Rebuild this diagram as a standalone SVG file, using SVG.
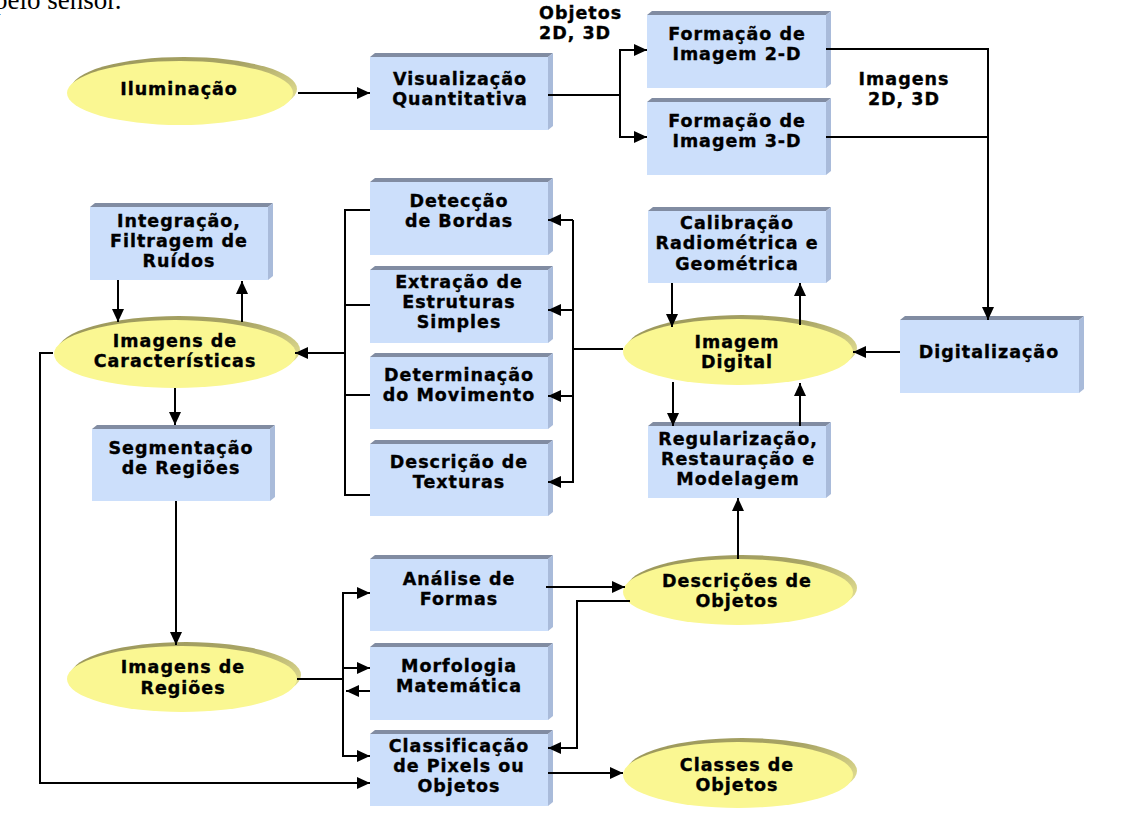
<svg xmlns="http://www.w3.org/2000/svg" width="1124" height="828" viewBox="0 0 1124 828">
<defs>
<style>
.front{fill:#CCDFFB}
.top{fill:#818CA2}
.side{fill:#A9BBDA}
.ef{fill:#FAF792}
.es{fill:url(#eg)}
.t{font-family:"DejaVu Sans",Verdana,sans-serif;font-weight:bold;font-size:17.5px;letter-spacing:1px;text-anchor:middle;fill:#000;stroke:#000;stroke-width:0.35}
.tl{text-anchor:start}
.c path{fill:none;stroke:#000;stroke-width:2}
.c path.a{marker-end:url(#ah)}
</style>
<linearGradient id="eg" x1="0" y1="0" x2="1" y2="0.6">
<stop offset="0" stop-color="#9A965A"/>
<stop offset="0.6" stop-color="#A8A465"/>
<stop offset="1" stop-color="#DEDA8E"/>
</linearGradient>
<marker id="ah" markerUnits="userSpaceOnUse" viewBox="0 0 13 12" markerWidth="13" markerHeight="12" refX="13" refY="6" orient="auto">
<path d="M0,0 L13,6 L0,12 z" fill="#000"/>
</marker>
</defs>
<rect width="1124" height="828" fill="#fff"/>
<text x="-6" y="9" font-family="Liberation Serif,serif" font-size="27" fill="#000">pelo sensor.</text>

<g id="iluminacao"><ellipse class="es" cx="184" cy="89" rx="113" ry="32"/><ellipse class="ef" cx="180" cy="93" rx="113" ry="32"/>
<text class="t" x="179" y="95">Iluminação</text></g>

<g id="visualizacao"><polygon class="top" points="370,57 375,53 553,53 548,57"/><polygon class="side" points="548,57 553,53 553,126 548,130"/><rect class="front" x="370" y="57" width="178" height="73"/>
<text class="t" x="460" y="85">Visualização</text><text class="t" x="460" y="105">Quantitativa</text></g>

<g id="objetos-label"><text class="t tl" x="539" y="19">Objetos</text><text class="t tl" x="539" y="39">2D, 3D</text></g>

<g id="formacao2d"><polygon class="top" points="647,15 652,11 831,11 826,15"/><polygon class="side" points="826,15 831,11 831,84 826,88"/><rect class="front" x="647" y="15" width="179" height="73"/>
<text class="t" x="737" y="40">Formação de</text><text class="t" x="737" y="60">Imagem 2-D</text></g>

<g id="formacao3d"><polygon class="top" points="647,102 652,98 831,98 826,102"/><polygon class="side" points="826,102 831,98 831,171 826,175"/><rect class="front" x="647" y="102" width="179" height="73"/>
<text class="t" x="737" y="127">Formação de</text><text class="t" x="737" y="147">Imagem 3-D</text></g>

<g id="imagens-label"><text class="t" x="904" y="85">Imagens</text><text class="t" x="904" y="105">2D, 3D</text></g>

<g id="integracao"><polygon class="top" points="90,207 95,203 273,203 268,207"/><polygon class="side" points="268,207 273,203 273,276 268,280"/><rect class="front" x="90" y="207" width="178" height="73"/>
<text class="t" x="179" y="227">Integração,</text><text class="t" x="179" y="247">Filtragem de</text><text class="t" x="179" y="267">Ruídos</text></g>

<g id="deteccao"><polygon class="top" points="370,182 375,178 553,178 548,182"/><polygon class="side" points="548,182 553,178 553,251 548,255"/><rect class="front" x="370" y="182" width="178" height="73"/>
<text class="t" x="459" y="207">Detecção</text><text class="t" x="459" y="227">de Bordas</text></g>

<g id="extracao"><polygon class="top" points="370,270 375,266 553,266 548,270"/><polygon class="side" points="548,270 553,266 553,339 548,343"/><rect class="front" x="370" y="270" width="178" height="73"/>
<text class="t" x="459" y="288">Extração de</text><text class="t" x="459" y="308">Estruturas</text><text class="t" x="459" y="328">Simples</text></g>

<g id="determinacao"><polygon class="top" points="370,357 375,353 553,353 548,357"/><polygon class="side" points="548,357 553,353 553,425 548,429"/><rect class="front" x="370" y="357" width="178" height="72"/>
<text class="t" x="459" y="381">Determinação</text><text class="t" x="459" y="401">do Movimento</text></g>

<g id="texturas"><polygon class="top" points="370,444 375,440 553,440 548,444"/><polygon class="side" points="548,444 553,440 553,512 548,516"/><rect class="front" x="370" y="444" width="178" height="72"/>
<text class="t" x="459" y="468">Descrição de</text><text class="t" x="459" y="488">Texturas</text></g>

<g id="calibracao"><polygon class="top" points="648,211 653,207 831,207 826,211"/><polygon class="side" points="826,211 831,207 831,279 826,283"/><rect class="front" x="648" y="211" width="178" height="72"/>
<text class="t" x="737" y="229">Calibração</text><text class="t" x="737" y="249">Radiométrica e</text><text class="t" x="737" y="270">Geométrica</text></g>

<g id="digitalizacao"><polygon class="top" points="900,320 905,316 1084,316 1079,320"/><polygon class="side" points="1079,320 1084,316 1084,389 1079,393"/><rect class="front" x="900" y="320" width="179" height="73"/>
<text class="t" x="989" y="358">Digitalização</text></g>

<g id="regularizacao"><polygon class="top" points="648,426 653,422 831,422 826,426"/><polygon class="side" points="826,426 831,422 831,494 826,498"/><rect class="front" x="648" y="426" width="178" height="72"/>
<text class="t" x="738" y="445">Regularização,</text><text class="t" x="738" y="465">Restauração e</text><text class="t" x="738" y="485">Modelagem</text></g>

<g id="segmentacao"><polygon class="top" points="92,429 97,425 275,425 270,429"/><polygon class="side" points="270,429 275,425 275,497 270,501"/><rect class="front" x="92" y="429" width="178" height="72"/>
<text class="t" x="181" y="454">Segmentação</text><text class="t" x="181" y="474">de Regiões</text></g>

<g id="analise"><polygon class="top" points="370,559 375,555 553,555 548,559"/><polygon class="side" points="548,559 553,555 553,627 548,631"/><rect class="front" x="370" y="559" width="178" height="72"/>
<text class="t" x="459" y="585">Análise de</text><text class="t" x="459" y="605">Formas</text></g>

<g id="morfologia"><polygon class="top" points="370,647 375,643 553,643 548,647"/><polygon class="side" points="548,647 553,643 553,716 548,720"/><rect class="front" x="370" y="647" width="178" height="73"/>
<text class="t" x="459" y="672">Morfologia</text><text class="t" x="459" y="692">Matemática</text></g>

<g id="classificacao"><polygon class="top" points="370,734 375,730 553,730 548,734"/><polygon class="side" points="548,734 553,730 553,802 548,806"/><rect class="front" x="370" y="734" width="178" height="72"/>
<text class="t" x="459" y="752">Classificação</text><text class="t" x="459" y="772">de Pixels ou</text><text class="t" x="459" y="792">Objetos</text></g>

<g id="caracteristicas"><ellipse class="es" cx="179" cy="350" rx="121" ry="34"/><ellipse class="ef" cx="175" cy="354" rx="121" ry="34"/>
<text class="t" x="175" y="347">Imagens de</text><text class="t" x="175" y="367">Características</text></g>

<g id="imagem-digital"><ellipse class="es" cx="742" cy="348" rx="115" ry="33"/><ellipse class="ef" cx="738" cy="352" rx="115" ry="33"/>
<text class="t" x="737" y="348">Imagem</text><text class="t" x="737" y="368">Digital</text></g>

<g id="regioes"><ellipse class="es" cx="186" cy="675" rx="115" ry="33"/><ellipse class="ef" cx="182" cy="679" rx="115" ry="33"/>
<text class="t" x="183" y="673">Imagens de</text><text class="t" x="183" y="694">Regiões</text></g>

<g id="descricoes"><ellipse class="es" cx="742" cy="588" rx="115" ry="33"/><ellipse class="ef" cx="738" cy="592" rx="115" ry="33"/>
<text class="t" x="737" y="587">Descrições de</text><text class="t" x="737" y="607">Objetos</text></g>

<g id="classes"><ellipse class="es" cx="742" cy="771" rx="115" ry="33"/><ellipse class="ef" cx="738" cy="775" rx="115" ry="33"/>
<text class="t" x="737" y="771">Classes de</text><text class="t" x="737" y="791">Objetos</text></g>

<g id="connectors" class="c">
<path class="a" d="M298,93 H370"/>
<path d="M548,95 H620"/>
<path class="a" d="M620,95 V50 H647"/>
<path class="a" d="M620,95 V137 H647"/>
<path class="a" d="M826,49 H988 V320"/>
<path d="M826,137 H988"/>
<path class="a" d="M900,352 H853"/>
<path class="a" d="M672,283 V327"/>
<path class="a" d="M800,325 V283"/>
<path class="a" d="M673,382 V426"/>
<path class="a" d="M800,426 V383"/>
<path class="a" d="M738,559 V498"/>
<path d="M623,349 H573"/>
<path class="a" d="M573,220 V482 H548"/>
<path class="a" d="M573,220 H548"/>
<path class="a" d="M573,310 H548"/>
<path class="a" d="M573,396 H548"/>
<path d="M370,210 H345 V495 H370"/>
<path d="M370,305 H345"/>
<path d="M370,395 H345"/>
<path class="a" d="M345,353 H295"/>
<path class="a" d="M118,280 V322"/>
<path class="a" d="M242,322 V281"/>
<path class="a" d="M175,388 V425"/>
<path class="a" d="M176,501 V645"/>
<path class="a" d="M53,353 H40 V783 H370"/>
<path d="M297,679 H343"/>
<path class="a" d="M343,679 V593 H370"/>
<path class="a" d="M343,668 H370"/>
<path class="a" d="M343,679 V756 H370"/>
<path class="a" d="M370,691 H346"/>
<path class="a" d="M546,587 H625"/>
<path class="a" d="M630,601 H577 V748 H548"/>
<path class="a" d="M548,773 H623"/>
</g>
</svg>
